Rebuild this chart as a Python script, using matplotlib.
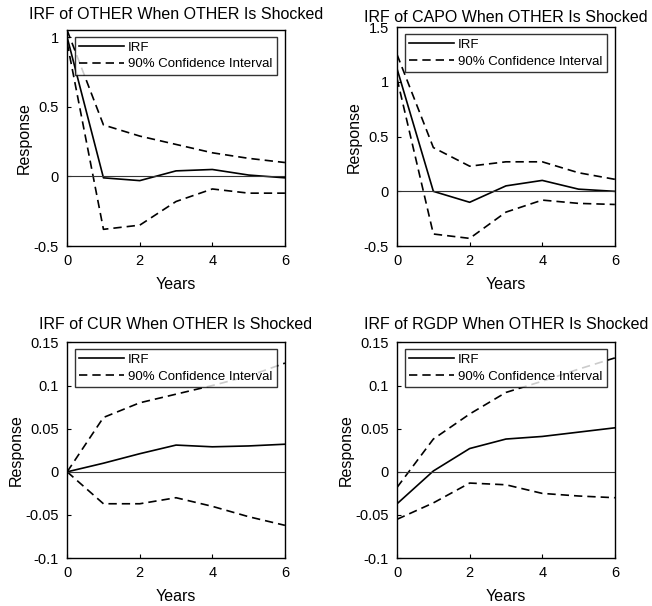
import numpy as np
import matplotlib
matplotlib.use("Agg")
from matplotlib import pyplot as plt

plt.rcParams['font.family'] = ['Liberation Sans', 'DejaVu Sans']

years = [0, 1, 2, 3, 4, 5, 6]

# OTHER -> OTHER
other_irf = [1.0, -0.01, -0.03, 0.04, 0.05, 0.01, -0.01]
other_up = [1.05, 0.37, 0.29, 0.23, 0.17, 0.13, 0.10]
other_lo = [0.96, -0.38, -0.35, -0.18, -0.09, -0.12, -0.12]

# CAPO
capo_irf = [1.12, 0.0, -0.10, 0.05, 0.10, 0.02, 0.0]
capo_up = [1.25, 0.40, 0.23, 0.27, 0.27, 0.17, 0.11]
capo_lo = [1.03, -0.39, -0.43, -0.19, -0.08, -0.11, -0.12]

# CUR
cur_irf = [0.0, 0.010, 0.021, 0.031, 0.029, 0.030, 0.032]
cur_up = [0.0, 0.063, 0.080, 0.090, 0.100, 0.111, 0.126]
cur_lo = [0.0, -0.037, -0.037, -0.030, -0.040, -0.052, -0.062]

# RGDP
rgdp_irf = [-0.037, 0.001, 0.027, 0.038, 0.041, 0.046, 0.051]
rgdp_up = [-0.018, 0.038, 0.067, 0.092, 0.105, 0.119, 0.132]
rgdp_lo = [-0.055, -0.036, -0.013, -0.015, -0.025, -0.028, -0.030]

panels = [
    ("IRF of OTHER When OTHER Is Shocked", other_irf, other_up, other_lo,
     (-0.5, 1.05), [-0.5, 0, 0.5, 1], ["-0.5", "0", "0.5", "1"]),
    ("IRF of CAPO When OTHER Is Shocked", capo_irf, capo_up, capo_lo,
     (-0.5, 1.5), [-0.5, 0, 0.5, 1, 1.5], ["-0.5", "0", "0.5", "1", "1.5"]),
    ("IRF of CUR When OTHER Is Shocked", cur_irf, cur_up, cur_lo,
     (-0.1, 0.15), [-0.1, -0.05, 0, 0.05, 0.1, 0.15],
     ["-0.1", "-0.05", "0", "0.05", "0.1", "0.15"]),
    ("IRF of RGDP When OTHER Is Shocked", rgdp_irf, rgdp_up, rgdp_lo,
     (-0.1, 0.15), [-0.1, -0.05, 0, 0.05, 0.1, 0.15],
     ["-0.1", "-0.05", "0", "0.05", "0.1", "0.15"]),
]

positions = [
    [0.103, 0.594, 0.334, 0.356],
    [0.609, 0.594, 0.334, 0.361],
    [0.103, 0.079, 0.334, 0.356],
    [0.609, 0.079, 0.334, 0.356],
]
title_pads = [8, 4, 10, 10]

fig = plt.figure(figsize=(6.52, 6.06), dpi=100)

for pos, tpad, (title, irf, up, lo, ylim, yt, ytl) in zip(positions, title_pads, panels):
    ax = fig.add_axes(pos)
    ax.plot(years, irf, color="black", lw=1.2, label="IRF")
    ax.plot(years, up, color="black", lw=1.2, ls=(0, (5, 3)),
            label="90% Confidence Interval")
    ax.plot(years, lo, color="black", lw=1.2, ls=(0, (5, 3)))
    ax.axhline(0, color="#333333", lw=0.8)
    ax.set_xlim(0, 6)
    ax.set_ylim(*ylim)
    ax.set_xticks([0, 2, 4, 6])
    ax.set_yticks(yt)
    ax.set_yticklabels(ytl)
    ax.tick_params(direction="in", labelsize=10.5, length=3, pad=6)
    ax.set_title(title, fontsize=11.5, pad=tpad)
    ax.set_xlabel("Years", fontsize=11.5, labelpad=6)
    ax.set_ylabel("Response", fontsize=11.5, labelpad=1)
    for s in ax.spines.values():
        s.set_linewidth(1.0)
    leg = ax.legend(loc="upper left", fontsize=9.5, frameon=True, fancybox=False,
                    edgecolor="black", handlelength=3.4, borderpad=0.35,
                    labelspacing=0.35, handletextpad=0.3, borderaxespad=0.0,
                    bbox_to_anchor=(0.035, 0.97))
    leg.get_frame().set_linewidth(1.0)

fig.savefig("out.png", dpi=100)
